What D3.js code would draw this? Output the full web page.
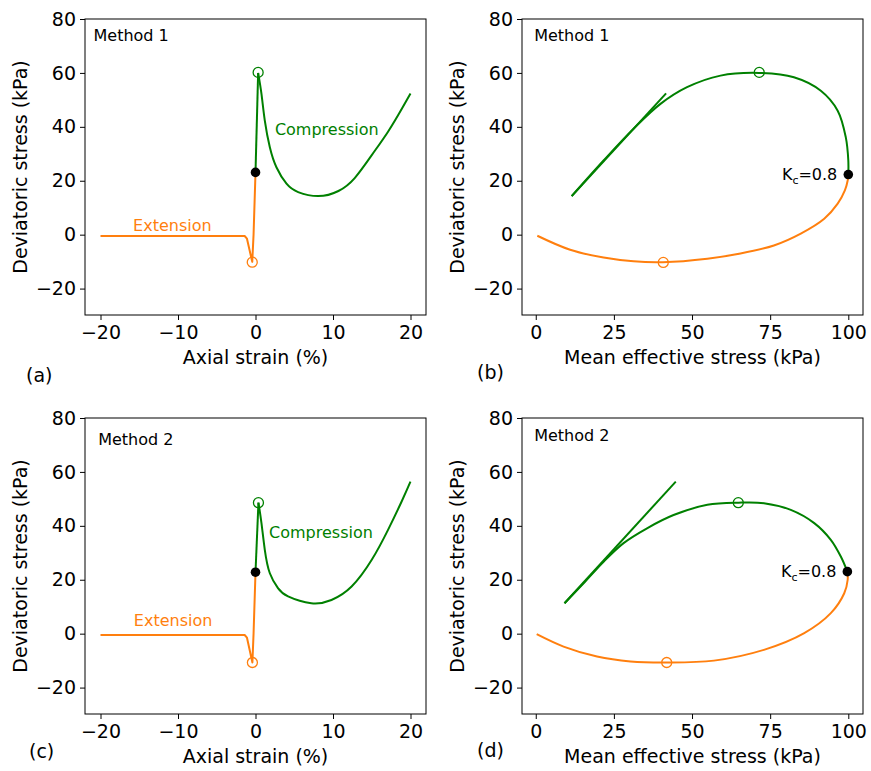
<!DOCTYPE html>
<html>
<head>
<meta charset="utf-8">
<script src="https://cdn.jsdelivr.net/npm/d3@7"></script>
<style>
  body { margin: 0; background: #fff; }
  text { font-family: "DejaVu Sans", sans-serif; fill: #000; }
</style>
</head>
<body>
<svg id="fig" width="871" height="771"></svg>
<script>
// tick labels
var strainTicks = [-20, -10, 0, 10, 20];
var pTicks = [0, 25, 50, 75, 100];
var qTicks = [-20, 0, 20, 40, 60, 80];

// Method 1 - stress strain (a)
var m1ExtStrain  = [-20, -1.4, -1.1, -0.42, -0.25, 0];
var m1ExtQ       = [-0.5, -0.5, -1.5, -10.1, 0, 23.1];
var m1CompStrain = [0, 0.34, 0.77, 1.2, 1.85, 2.7, 4.0, 5.5, 8.1, 10.7, 12.8, 15.0, 17.1, 18.9, 20];
var m1CompQ      = [23.1, 60.0, 52.2, 42.3, 32.4, 25.0, 18.9, 15.8, 14.3, 16.2, 21.0, 29.5, 38.2, 46.8, 52.4];
// Method 1 - stress path (b)
var m1ExtP  = [0.5, 11.0, 21.7, 31.3, 40.7, 54.9, 65.5, 76.2, 84.8, 92.3, 96.6, 98.9, 99.8, 100];
var m1ExtPQ = [-0.4, -5.6, -8.5, -9.9, -10.2, -8.9, -7.0, -4.0, 0.4, 5.9, 11.5, 16.4, 20.1, 22.3];
var m1CompP  = [100, 100, 99.2, 96.6, 91.2, 82.6, 71.5, 59.1, 48.4, 39.9, 31.3, 21.7, 11.5];
var m1CompPQ = [22.3, 27.5, 36.1, 46.0, 53.4, 58.4, 60.0, 59.0, 54.7, 48.5, 39.3, 27.5, 14.3];
var m1LineP = [11.5, 41.7];
var m1LineQ = [14.3, 52.4];

// Method 2 - stress strain (c)
var m2ExtStrain  = [-20, -1.4, -1.1, -0.4, -0.25, 0];
var m2ExtQ       = [-0.5, -0.5, -1.5, -10.7, 0, 22.8];
var m2CompStrain = [0, 0.38, 0.77, 1.2, 1.85, 2.9, 4.2, 7.2, 9.8, 12.4, 15.0, 17.1, 18.9, 20];
var m2CompQ      = [22.8, 48.6, 41.0, 31.1, 22.4, 16.9, 13.8, 11.3, 12.5, 17.5, 27.4, 38.5, 49.3, 56.4];
// Method 2 - stress path (d)
var m2ExtP  = [0.3, 8.9, 19.6, 30.3, 41.8, 57.0, 73.0, 85.9, 94.4, 98.7, 99.8, 99.7];
var m2ExtPQ = [-0.2, -4.8, -8.5, -10.3, -10.7, -10.0, -6.0, 0.2, 7.6, 15.0, 20.0, 23.0];
var m2CompP  = [99.7, 97.6, 94.4, 89.1, 81.6, 73.0, 64.9, 54.9, 44.1, 35.6, 28.1, 21.7, 15.3, 9.2];
var m2CompPQ = [23.0, 28.6, 34.8, 41.0, 45.9, 48.4, 48.6, 47.8, 44.0, 39.1, 33.6, 26.7, 18.7, 11.3];
var m2LineP = [9.2, 44.8];
var m2LineQ = [11.3, 56.4];

// markers: [peak compression, peak extension, start]
var m1StrainMarks = [[0.34, 60.2], [-0.42, -10.2], [0, 23.1]];
var m1PathMarks   = [[71.5, 60.2], [40.8, -10.3], [100, 22.3]];
var m2StrainMarks = [[0.38, 48.6], [-0.4, -10.7], [0, 22.8]];
var m2PathMarks   = [[64.8, 48.6], [41.9, -10.7], [99.7, 23.0]];

var ORANGE = "#ff7f0e", GREEN = "#008000";

function zip(a, b) { return a.map(function(v, i){ return [v, b[i]]; }); }
function fmt(d) { return String(d).replace("-", "\u2212"); }

var svg = d3.select("#fig");

var panels = [
  {left: 85, top: 19, xDomain: [-22, 22], xTicks: strainTicks, xLabel: "Axial strain (%)",
   ext: zip(m1ExtStrain, m1ExtQ), comp: zip(m1CompStrain, m1CompQ), marks: m1StrainMarks,
   method: "Method 1", methodAt: [-20.9, 71.7], tag: "(a)", tagAt: [26, 382],
   peakSplit: 1, notes: [["Extension", -15.8, 1.2, ORANGE], ["Compression", 2.5, 36.8, GREEN]]},
  {left: 522, top: 19, xDomain: [-4.4, 104.7], xTicks: pTicks, xLabel: "Mean effective stress (kPa)",
   ext: zip(m1ExtP, m1ExtPQ), comp: zip(m1CompP, m1CompPQ), tangent: zip(m1LineP, m1LineQ), marks: m1PathMarks,
   method: "Method 1", methodAt: [-0.5, 71.9], tag: "(b)", tagAt: [477, 379], kc: true, notes: []},
  {left: 85, top: 418, xDomain: [-22, 22], xTicks: strainTicks, xLabel: "Axial strain (%)",
   ext: zip(m2ExtStrain, m2ExtQ), comp: zip(m2CompStrain, m2CompQ), marks: m2StrainMarks,
   method: "Method 2", methodAt: [-20.3, 70.0], tag: "(c)", tagAt: [29, 758],
   peakSplit: 1, notes: [["Extension", -15.7, 3.0, ORANGE], ["Compression", 1.75, 35.6, GREEN]]},
  {left: 522, top: 418, xDomain: [-4.4, 104.7], xTicks: pTicks, xLabel: "Mean effective stress (kPa)",
   ext: zip(m2ExtP, m2ExtPQ), comp: zip(m2CompP, m2CompPQ), tangent: zip(m2LineP, m2LineQ), marks: m2PathMarks,
   method: "Method 2", methodAt: [-0.5, 71.3], tag: "(d)", tagAt: [477, 757], kc: true, notes: []}
];

var W = 341, H = 296;

panels.forEach(function(p) {
  var g = svg.append("g").attr("transform", "translate(" + p.left + "," + p.top + ")");
  var x = d3.scaleLinear().domain(p.xDomain).range([0, W]);
  var y = d3.scaleLinear().domain([-29.8, 80]).range([H, 0]);

  var smooth = d3.line().x(function(d){ return x(d[0]); }).y(function(d){ return y(d[1]); })
    .curve(d3.curveCatmullRom.alpha(0.5));
  var natural = d3.line().x(function(d){ return x(d[0]); }).y(function(d){ return y(d[1]); })
    .curve(d3.curveNatural);
  var straight = d3.line().x(function(d){ return x(d[0]); }).y(function(d){ return y(d[1]); });

  var plot = g.append("g");
  if (p.peakSplit !== undefined) {
    // stress-strain: sharp corners, so split at the peak
    plot.append("path").attr("d", straight(p.ext))
      .attr("fill", "none").attr("stroke", ORANGE).attr("stroke-width", 2).attr("stroke-linejoin", "round");
    plot.append("path").attr("d", straight(p.comp.slice(0, p.peakSplit + 1)))
      .attr("fill", "none").attr("stroke", GREEN).attr("stroke-width", 2);
    plot.append("path").attr("d", natural(p.comp.slice(p.peakSplit)))
      .attr("fill", "none").attr("stroke", GREEN).attr("stroke-width", 2);
  } else {
    plot.append("path").attr("d", smooth(p.ext))
      .attr("fill", "none").attr("stroke", ORANGE).attr("stroke-width", 2);
    plot.append("path").attr("d", smooth(p.comp))
      .attr("fill", "none").attr("stroke", GREEN).attr("stroke-width", 2);
    plot.append("path").attr("d", straight(p.tangent))
      .attr("fill", "none").attr("stroke", GREEN).attr("stroke-width", 2);
  }

  // markers
  plot.append("circle").attr("cx", x(p.marks[0][0])).attr("cy", y(p.marks[0][1])).attr("r", 5)
    .attr("fill", "none").attr("stroke", GREEN).attr("stroke-width", 1.3);
  plot.append("circle").attr("cx", x(p.marks[1][0])).attr("cy", y(p.marks[1][1])).attr("r", 5)
    .attr("fill", "none").attr("stroke", ORANGE).attr("stroke-width", 1.3);
  plot.append("circle").attr("cx", x(p.marks[2][0])).attr("cy", y(p.marks[2][1])).attr("r", 4.8)
    .attr("fill", "#000");

  if (p.kc) {
    var t = g.append("text").attr("x", x(p.marks[2][0]) - 11).attr("y", y(p.marks[2][1]))
      .attr("dy", "0.35em").attr("text-anchor", "end").attr("font-size", 16);
    t.append("tspan").text("K");
    t.append("tspan").attr("font-size", 11).attr("dy", 4).text("c");
    t.append("tspan").attr("dy", -4).text("=0.8");
  }

  p.notes.forEach(function(n) {
    g.append("text").attr("x", x(n[1])).attr("y", y(n[2])).attr("font-size", 16)
      .style("fill", n[3]).text(n[0]);
  });

  g.append("text").attr("x", x(p.methodAt[0])).attr("y", y(p.methodAt[1]))
    .attr("font-size", 16).text(p.method);

  // axes
  var xa = g.append("g").attr("transform", "translate(0," + H + ")")
    .call(d3.axisBottom(x).tickValues(p.xTicks).tickFormat(fmt).tickSize(5).tickPadding(6));
  var ya = g.append("g")
    .call(d3.axisLeft(y).tickValues(qTicks).tickFormat(fmt).tickSize(5).tickPadding(4));
  [xa, ya].forEach(function(a) {
    a.select(".domain").remove();
    a.selectAll("text").attr("font-size", 19).attr("font-family", "DejaVu Sans").style("fill", "#000");
    a.selectAll("line").attr("stroke", "#000");
  });

  g.append("rect").attr("x", 0).attr("y", 0).attr("width", W).attr("height", H)
    .attr("fill", "none").attr("stroke", "#000").attr("stroke-width", 1);

  g.append("text").attr("x", W / 2).attr("y", H + 49).attr("text-anchor", "middle")
    .attr("font-size", 19).text(p.xLabel);
  g.append("text").attr("transform", "translate(-58," + (H / 2) + ") rotate(-90)")
    .attr("text-anchor", "middle").attr("font-size", 19).text("Deviatoric stress (kPa)");

  svg.append("text").attr("x", p.tagAt[0]).attr("y", p.tagAt[1]).attr("font-size", 19).text(p.tag);
});
</script>
</body>
</html>
